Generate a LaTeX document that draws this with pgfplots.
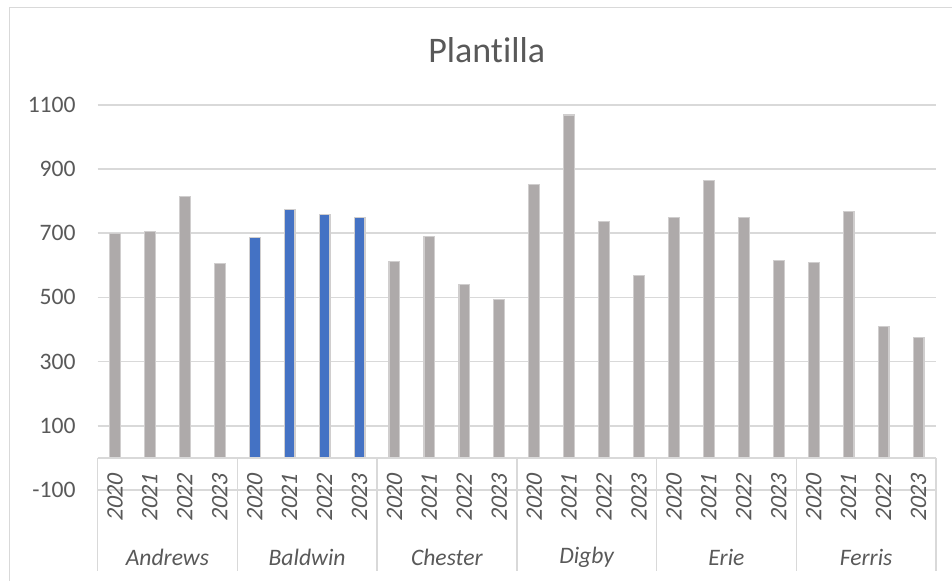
\documentclass[border=0pt]{standalone}
\usepackage{pgfplots}
\pgfplotsset{compat=1.18}
\usepackage{pgfplotstable}
\usepackage{fontspec}
\setmainfont{Carlito}[Ligatures=NoCommon]
\newfontfamily\yrfont{Carlito}[FakeSlant=0.2]

\definecolor{txtgrey}{HTML}{595959}
\definecolor{gridgrey}{HTML}{D9D9D9}
\definecolor{bargrey}{HTML}{AEAAAA}
\definecolor{barblue}{HTML}{4472C4}
\definecolor{edgegrey}{HTML}{D0CECE}

\tikzset{catlab/.style={text=txtgrey, inner sep=0pt, font=\fontsize{11.8}{13}\selectfont\itshape}}
% year label, rotated, under bar position #1
\newcommand{\yl}[2]{\node[text=txtgrey, inner sep=0pt, rotate=90,
  font=\yrfont\fontsize{11.8}{13}\selectfont] at (axis cs:#1,-125) {#2};}

% Staff per company and year: x = position (4 years per company)
\pgfplotstableread{
x  staff
0  700
1  705
2  815
3  605
8  613
9  689
10 540
11 494
12 852
13 1068
14 736
15 568
16 748
17 865
18 748
19 616
20 608
21 767
22 409
23 376
}\othersdata
\pgfplotstableread{
x  staff
4  686
5  774
6  758
7  748
}\baldwindata

\begin{document}
\begin{tikzpicture}
\path[use as bounding box] (0,0) rectangle (476pt,-290.5pt);
% chart frame
\draw[gridgrey, line width=0.75pt] (4.75pt,-290.5pt) -- (4.75pt,-3.75pt) -- (476pt,-3.75pt);
% title
\node[text=txtgrey, font=\fontsize{18}{20}\selectfont] at (243.35pt,-25pt) {Plantilla};

\begin{axis}[
  at={(48.75pt,-245pt)}, anchor=south west,
  scale only axis, width=419.25pt, height=192.6pt,
  xmin=-0.5, xmax=23.5, ymin=-100, ymax=1100,
  clip=false,
  axis line style={draw=none},
  major tick length=0pt,
  ytick={-100,100,300,500,700,900,1100},
  xtick=\empty,
  ymajorgrids,
  grid style={gridgrey, line width=0.75pt},
  /pgf/number format/assume math mode=true,
  /pgf/number format/1000 sep={},
  yticklabel style={text=txtgrey, inner sep=0pt, font=\fontsize{11.8}{13}\selectfont},
  yticklabel shift=10.75pt,
]
\addplot[ybar, bar width=0.31, bar shift=0pt, fill=bargrey, draw=edgegrey, line width=0.6pt]
  table[x=x, y=staff] {\othersdata};
\addplot[ybar, bar width=0.31, bar shift=0pt, fill=barblue, draw=edgegrey, line width=0.6pt]
  table[x=x, y=staff] {\baldwindata};

% category box
\draw[gridgrey, line width=0.75pt] (axis cs:-0.5,0) -- (axis cs:23.5,0);
\pgfplotsinvokeforeach{-0.5,3.5,7.5,11.5,15.5,19.5,23.5}{
  \draw[gridgrey, line width=0.75pt] (axis cs:#1,0) -- (axis cs:#1,-352);
}
% years
\yl{0}{2020}\yl{1}{2021}\yl{2}{2022}\yl{3}{2023}
\yl{4}{2020}\yl{5}{2021}\yl{6}{2022}\yl{7}{2023}
\yl{8}{2020}\yl{9}{2021}\yl{10}{2022}\yl{11}{2023}
\yl{12}{2020}\yl{13}{2021}\yl{14}{2022}\yl{15}{2023}
\yl{16}{2020}\yl{17}{2021}\yl{18}{2022}\yl{19}{2023}
\yl{20}{2020}\yl{21}{2021}\yl{22}{2022}\yl{23}{2023}
% company names
\node[catlab] at (axis cs:1.5,-309) {Andrews};
\node[catlab] at (axis cs:5.5,-309) {Baldwin};
\node[catlab] at (axis cs:9.5,-309) {Chester};
\node[catlab] at (axis cs:13.5,-309) {Digby};
\node[catlab] at (axis cs:17.5,-309) {Erie};
\node[catlab] at (axis cs:21.5,-309) {Ferris};
\end{axis}
\end{tikzpicture}
\end{document}
